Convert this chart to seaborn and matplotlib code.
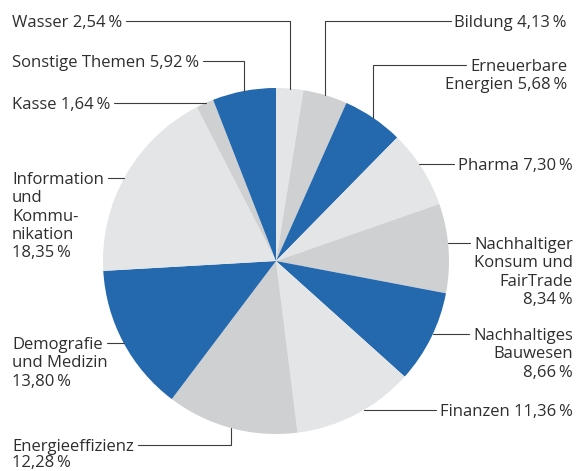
import matplotlib
matplotlib.use('Agg')
import matplotlib.pyplot as plt
import numpy as np
import seaborn as sns

# Anteile in Prozent, im Uhrzeigersinn ab 12 Uhr
themen = ['Wasser', 'Bildung', 'Erneuerbare\nEnergien', 'Pharma',
          'Nachhaltiger\nKonsum und\nFairTrade', 'Nachhaltiges\nBauwesen',
          'Finanzen', 'Energieeffizienz', 'Demografie\nund Medizin',
          'Information\nund\nKommu-\nnikation', 'Kasse', 'Sonstige Themen']
anteile = [2.54, 4.13, 5.68, 7.30, 8.34, 8.66, 11.36, 12.28, 13.80, 18.35, 1.64, 5.92]
trenner = [' ', ' ', ' ', ' ', '\n', '\n', ' ', '\n', '\n', '\n', ' ', ' ']

hell, mittel, blau = '#e4e5e7', '#cfd0d2', '#2468ae'
farben = [hell, mittel, blau] * 4

# Beschriftungs-Layout in Pixeln (y von oben): Seite, Textkante x, Linien-y, Linienart, Zeilenabstand
layout = [('l', 12, 21, 'v', 1.19), ('r', 567, 21, 'v', 1.19), ('r', 567, 65, 'v', 1.19),
          ('r', 573, 164, 'h', 1.19), ('r', 573, 243, 'h', 1.19), ('r', 573, 334, 'h', 1.19),
          ('r', 573, 410, 'h', 1.19), ('l', 12, 445, 'v', 1.02), ('l', 12, 343, 'h', 1.19),
          ('l', 12, 178, 'h', 1.19), ('l', 12, 103, 'h', 1.19), ('l', 12, 61, 'v', 1.19)]

W, H = 581, 471
CX, CY, R = 276, 261, 173
FONT = 'Open Sans'
FS = 12
TXT = '#2e2e2e'
LINE = '#3c3c3c'

sns.set_theme(style='white')
plt.rcParams['font.family'] = [FONT, 'DejaVu Sans']

fig = plt.figure(figsize=(W / 100, H / 100), dpi=100)
ax = fig.add_axes([0, 0, 1, 1])
wedges, _ = ax.pie(anteile, colors=farben, startangle=90, counterclock=False,
                   center=(CX, H - CY), radius=R, frame=True,
                   wedgeprops=dict(linewidth=0))
ax.set_xlim(0, W)
ax.set_ylim(0, H)
ax.axis('off')

fig.canvas.draw()
renderer = fig.canvas.get_renderer()

# Abstand Grundlinie -> Oberkante einer Zeile
probe = ax.text(0, 100, 'Wasser', fontsize=FS, va='baseline')
oben = probe.get_window_extent(renderer).y1 - 100
probe.remove()


def fmt(v):
    return f'{v:.2f}'.replace('.', ',') + '\u2009%'


texte = []
for name, v, sep, (seite, tx, ly, art, ls) in zip(themen, anteile, trenner, layout):
    label = name + sep + fmt(v)
    grund = H - ly - 6
    t = ax.text(tx, grund + oben, label, ha='left' if seite == 'l' else 'right',
                va='top', multialignment='left' if seite == 'l' else 'right',
                fontsize=FS, color=TXT, linespacing=ls)
    texte.append(t)

fig.canvas.draw()

for w, t, (seite, tx, ly, art, ls) in zip(wedges, texte, layout):
    erste = t.get_text().split('\n')[0]
    probe = ax.text(0, 0, erste, fontsize=FS)
    breite = probe.get_window_extent(renderer).width
    probe.remove()
    if seite == 'l':
        xe = tx + breite + 4
    else:
        xe = tx - breite - 4
    y = H - ly
    if art == 'v':
        mitte = np.deg2rad((w.theta1 + w.theta2) / 2)
        ax_ = CX + R * np.cos(mitte)
        ay = (H - CY) + R * np.sin(mitte)
        ax.plot([xe, ax_, ax_], [y, y, ay], color=LINE, lw=0.8, solid_joinstyle='miter')
    else:
        dx = np.sqrt(max(R ** 2 - (y - (H - CY)) ** 2, 0))
        kante = CX - dx if seite == 'l' else CX + dx
        ax.plot([xe, kante], [y, y], color=LINE, lw=0.8)

fig.savefig('out.png', dpi=100)
